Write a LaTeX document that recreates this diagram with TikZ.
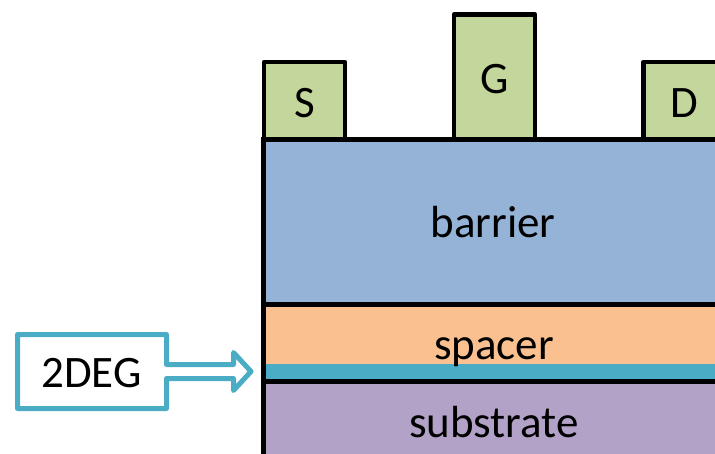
\documentclass[tikz,border=0pt]{standalone}
\usepackage{fontspec}
\setmainfont{Carlito}
\definecolor{contactgreen}{HTML}{C3D69B}
\definecolor{barrierblue}{HTML}{95B3D7}
\definecolor{spacerorange}{HTML}{FAC090}
\definecolor{substratepurple}{HTML}{B3A2C7}
\definecolor{degteal}{HTML}{4BACC6}
\begin{document}
\begin{tikzpicture}[x=1pt,y=-1pt,
  layer/.style={draw=black,line width=4.5pt,line join=miter},
  contact/.style={draw=black,fill=contactgreen,line width=4.5pt,line join=round},
  lbl/.style={font=\fontsize{45}{50}\selectfont,anchor=base,inner sep=0pt,text=black}]
\useasboundingbox (0,0) rectangle (715,453);
\clip (0,0) rectangle (715,453);
% layers
\path[fill=barrierblue] (263.5,139.5) rectangle (760,304.5);
\path[fill=spacerorange] (263.5,304.5) rectangle (760,381.5);
\path[fill=degteal] (263.5,364) rectangle (760,380);
\path[fill=substratepurple] (263.5,381.5) rectangle (760,480);
\draw[layer] (263.5,139.5) rectangle (760,304.5);
\draw[layer] (263.5,304.5) rectangle (760,381.5);
\draw[layer] (263.5,381.5) rectangle (760,480);
% contacts
\draw[contact] (264,139.5) rectangle (345,62);
\draw[contact] (454,139.5) rectangle (535,14.5);
\draw[contact] (643.5,139.5) rectangle (724.5,62);
% labels
\node[lbl] (S) at (304.5,117) {S};
\node[lbl] (G) at (494.5,93) {G};
\node[lbl] (D) at (684,117) {D};
\node[lbl] (barrier) at (493,237) {barrier};
\node[lbl] (spacer) at (494,359) {spacer};
\node[lbl] (substrate) at (494,437) {substrate};
% 2DEG callout
\draw[degteal,line width=5pt,line join=round,fill=white]
  (17.5,334.5) -- (166.5,334.5) -- (166.5,364.5) -- (233.5,364.5) -- (233.5,352.5)
  -- (251,371.5) -- (233.5,390.5) -- (233.5,378.5) -- (166.5,378.5) -- (166.5,408.5)
  -- (17.5,408.5) -- cycle;
\node[lbl] (deg) at (91.5,387) {2DEG};
\end{tikzpicture}
\end{document}
